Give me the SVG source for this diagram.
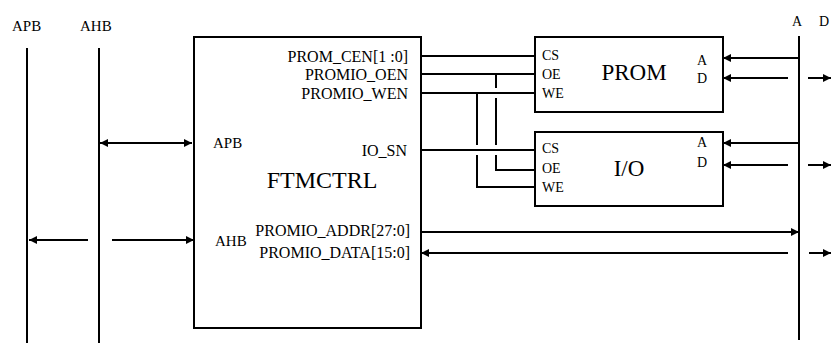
<svg xmlns="http://www.w3.org/2000/svg" width="832" height="347" viewBox="0 0 832 347">
<style>
text{font-family:"Liberation Serif","Times New Roman",serif;fill:#000}
.sig{font-size:16px;text-anchor:end}
.pin{font-size:14px}
.big{font-size:24px;text-anchor:middle}
.box{fill:#fff;stroke:#000;stroke-width:2}
.ln{fill:none;stroke:#000;stroke-width:2}
.arr{fill:none;stroke:#000;stroke-width:2;marker-end:url(#ah)}
.arr2{fill:none;stroke:#000;stroke-width:2;marker-end:url(#ah);marker-start:url(#ah)}
</style>
<defs>
<marker id="ah" viewBox="0 0 10 10" refX="10" refY="5" markerWidth="10" markerHeight="8" markerUnits="userSpaceOnUse" orient="auto-start-reverse">
<path d="M0,0 L10,5 L0,10 z" fill="#000"/>
</marker>
</defs>
<rect width="832" height="347" fill="#fff"/>

<g id="bus-apb">
<text x="12" y="31" style="font-size:15px">APB</text>
<line class="ln" x1="27" y1="48" x2="27" y2="343"/>
</g>
<g id="bus-ahb">
<text x="80" y="31" style="font-size:15px">AHB</text>
<line class="ln" x1="99" y1="48" x2="99" y2="343"/>
</g>
<g id="bus-ad">
<text x="792" y="26" class="pin">A</text>
<text x="819" y="26" class="pin">D</text>
<line class="ln" x1="799" y1="36" x2="799" y2="340"/>
</g>

<g id="ftmctrl">
<rect class="box" x="194" y="37" width="227" height="291"/>
<text x="213" y="148" style="font-size:15px">APB</text>
<text x="215" y="246" style="font-size:15px">AHB</text>
<text x="322" y="188" class="big">FTMCTRL</text>
<text x="408" y="62" class="sig">PROM_CEN[1 :0]</text>
<text x="408" y="80" class="sig">PROMIO_OEN</text>
<text x="408" y="99" class="sig">PROMIO_WEN</text>
<text x="407" y="156" class="sig">IO_SN</text>
<text x="410" y="236" class="sig">PROMIO_ADDR[27:0]</text>
<text x="410" y="258" class="sig">PROMIO_DATA[15:0]</text>
</g>

<g id="prom">
<rect class="box" x="535" y="37" width="188" height="75"/>
<text x="542" y="60" class="pin">CS</text>
<text x="542" y="79" class="pin">OE</text>
<text x="542" y="98" class="pin">WE</text>
<text x="634" y="80" class="big" style="font-size:23px">PROM</text>
<text x="697" y="65" class="pin">A</text>
<text x="697" y="83" class="pin">D</text>
</g>

<g id="io">
<rect class="box" x="535" y="132" width="188" height="74"/>
<text x="542" y="153" class="pin">CS</text>
<text x="542" y="173" class="pin">OE</text>
<text x="542" y="192" class="pin">WE</text>
<text x="629" y="176" class="big" style="font-size:23px">I/O</text>
<text x="697" y="147" class="pin">A</text>
<text x="697" y="167" class="pin">D</text>
</g>

<g id="connectors">
<line class="ln" x1="421" y1="56" x2="535" y2="56"/>
<line class="ln" x1="421" y1="74" x2="535" y2="74"/>
<line class="ln" x1="421" y1="93" x2="535" y2="93"/>
<line class="ln" x1="421" y1="150" x2="535" y2="150"/>
<path class="ln" d="M496,74 V88 M496,98 V145 M496,155 V170 H535"/>
<path class="ln" d="M477,93 V145 M477,155 V187 H535"/>

<line class="arr" x1="799" y1="58" x2="723" y2="58"/>
<line class="arr" x1="788" y1="78" x2="723" y2="78"/>
<line class="arr" x1="808" y1="78" x2="831" y2="78"/>
<line class="arr" x1="799" y1="143" x2="723" y2="143"/>
<line class="arr" x1="788" y1="165" x2="723" y2="165"/>
<line class="arr" x1="808" y1="165" x2="831" y2="165"/>

<line class="arr" x1="421" y1="232" x2="799" y2="232"/>
<line class="arr" x1="788" y1="253" x2="421" y2="253"/>
<line class="arr" x1="809" y1="253" x2="831" y2="253"/>

<line class="arr2" x1="100" y1="143" x2="192" y2="143"/>
<line class="arr" x1="88" y1="240" x2="29" y2="240"/>
<line class="arr" x1="112" y1="240" x2="194" y2="240"/>
</g>
</svg>
